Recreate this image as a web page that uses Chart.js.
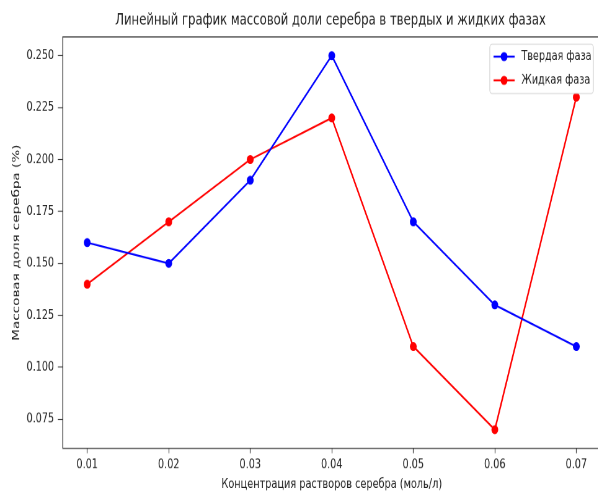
<!DOCTYPE html>
<html>
<head>
<meta charset="utf-8">
<script src="https://cdn.jsdelivr.net/npm/chart.js@4/dist/chart.umd.min.js"></script>
<style>
  html, body { margin: 0; padding: 0; overflow: hidden; background: #fff; width: 598px; height: 491px; }
  #stage { position: absolute; left: 0; top: 0; width: 980px; height: 599px;
           transform: scale(0.62, 0.82); transform-origin: 0 0; }
</style>
</head>
<body>
<div id="stage"><canvas id="chart"></canvas></div>
<script>
// Концентрация растворов (моль/л)
const concentrations = [0.01, 0.02, 0.03, 0.04, 0.05, 0.06, 0.07];
// Массовая доля серебра, твердая фаза
const solidPhase = [0.16, 0.15, 0.19, 0.25, 0.17, 0.13, 0.11];
// Массовая доля серебра, жидкая фаза
const liquidPhase = [0.14, 0.17, 0.20, 0.22, 0.11, 0.07, 0.23];
// Деления осей
const xTicks = [0.01, 0.02, 0.03, 0.04, 0.05, 0.06, 0.07];
const yTicks = [0.075, 0.100, 0.125, 0.150, 0.175, 0.200, 0.225, 0.250];

const chartTitle = 'Линейный график массовой доли серебра в твердых и жидких фазах';
const seriesNames = ['Твердая фаза', 'Жидкая фаза'];
const seriesColors = ['#0000ff', '#ff0000'];

const FONT = "'DejaVu Sans', sans-serif";
Chart.defaults.font.family = FONT;
Chart.defaults.color = '#222';

const toPoints = ys => concentrations.map((x, i) => ({ x, y: ys[i] }));

// Рамка вокруг области построения и заголовок над ней
const frame = {
  id: 'frame',
  afterDatasetsDraw(chart) {
    const { ctx, chartArea: a } = chart;
    ctx.save();
    ctx.strokeStyle = '#333';
    ctx.lineWidth = 1.3;
    ctx.strokeRect(a.left, a.top, a.right - a.left, a.bottom - a.top);
    ctx.fillStyle = '#222';
    ctx.font = `18.8px ${FONT}`;
    ctx.textAlign = 'center';
    ctx.textBaseline = 'middle';
    ctx.fillText(chartTitle, (a.left + a.right) / 2 - 2, 25);
    ctx.restore();
  }
};

// Легенда внутри области построения, справа сверху
const insetLegend = {
  id: 'insetLegend',
  afterDraw(chart) {
    const { ctx } = chart;
    const left = 790, top = 54, w = 167, h = 60;
    ctx.save();
    ctx.fillStyle = 'rgba(255,255,255,0.85)';
    ctx.strokeStyle = '#d0d0d0';
    ctx.lineWidth = 1.2;
    ctx.beginPath();
    ctx.roundRect(left, top, w, h, 4);
    ctx.fill();
    ctx.stroke();
    chart.data.datasets.forEach((ds, i) => {
      const y = top + 15 + i * 29;
      ctx.strokeStyle = ds.borderColor;
      ctx.lineWidth = 2.4;
      ctx.beginPath();
      ctx.moveTo(left + 6, y);
      ctx.lineTo(left + 40, y);
      ctx.stroke();
      ctx.fillStyle = ds.borderColor;
      ctx.beginPath();
      ctx.arc(left + 23, y, 5.5, 0, Math.PI * 2);
      ctx.fill();
      ctx.fillStyle = '#222';
      ctx.font = `15.5px ${FONT}`;
      ctx.textBaseline = 'middle';
      ctx.textAlign = 'left';
      ctx.fillText(ds.label, left + 51, y);
    });
    ctx.restore();
  }
};

new Chart(document.getElementById('chart'), {
  type: 'line',
  data: {
    datasets: [solidPhase, liquidPhase].map((vals, i) => ({
      label: seriesNames[i],
      data: toPoints(vals),
      borderColor: seriesColors[i],
      backgroundColor: seriesColors[i],
      borderWidth: 2.4,
      pointRadius: 5.5,
      pointHoverRadius: 5.5,
      pointBorderWidth: 0,
      tension: 0,
      fill: false
    }))
  },
  options: {
    responsive: true,
    maintainAspectRatio: false,
    animation: false,
    events: [],
    layout: { padding: { left: 11, right: 11, top: 45, bottom: 0 } },
    plugins: {
      legend: { display: false },
      tooltip: { enabled: false },
      title: { display: false }
    },
    scales: {
      x: {
        type: 'linear',
        min: 0.007,
        max: 0.073,
        afterBuildTicks: s => { s.ticks = xTicks.map(v => ({ value: v })); },
        ticks: {
          callback: v => v.toFixed(2),
          font: { size: 15.5 },
          padding: 5,
          maxRotation: 0,
          autoSkip: false
        },
        grid: { drawOnChartArea: false, tickLength: 6, tickColor: '#333', tickWidth: 1.2 },
        border: { display: false },
        title: {
          display: true,
          text: 'Концентрация растворов серебра (моль/л)',
          font: { size: 15.7, lineHeight: 1.0 },
          padding: { top: 2, bottom: 0 }
        }
      },
      y: {
        min: 0.061,
        max: 0.259,
        afterBuildTicks: s => { s.ticks = yTicks.map(v => ({ value: v })); },
        ticks: {
          callback: v => v.toFixed(3),
          font: { size: 15.5 },
          padding: 6,
          autoSkip: false
        },
        grid: { drawOnChartArea: false, tickLength: 8, tickColor: '#333', tickWidth: 1.2 },
        border: { display: false },
        title: {
          display: true,
          text: 'Массовая доля серебра (%)',
          font: { size: 16.5 },
          padding: { top: 6, bottom: 0 }
        }
      }
    }
  },
  plugins: [frame, insetLegend]
});
</script>
</body>
</html>
